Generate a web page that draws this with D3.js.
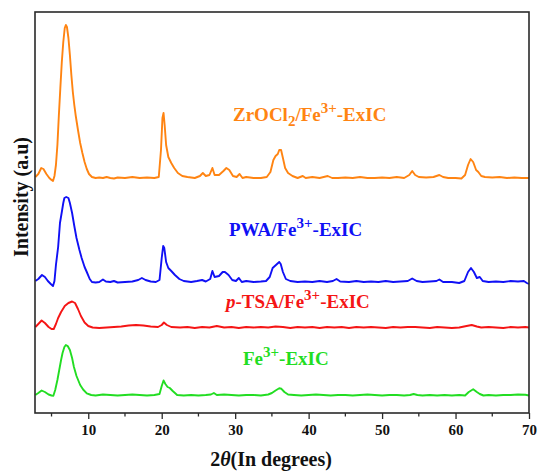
<!DOCTYPE html>
<html>
<head>
<meta charset="utf-8">
<script src="https://cdn.jsdelivr.net/npm/d3@7"></script>
<style>
  body { margin: 0; background: #fff; }
  svg text, svg tspan { font-family: "Liberation Serif", "DejaVu Serif", serif !important; font-weight: bold; }
</style>
</head>
<body>
<div id="chart"></div>
<script>
// XRD patterns, [2theta, intensity above own baseline] (a.u.)
var zrData = [[2.8,1],[3.2,4],[3.6,10],[3.9,9],[4.3,4],[4.7,0],[5.0,-2],[5.2,-3],[5.4,2],[5.6,13],[5.8,33],[6.0,63],[6.2,90],[6.4,116],[6.6,136],[6.8,150],[6.95,153],[7.1,151],[7.3,140],[7.5,123],[7.7,103],[7.9,86],[8.1,73],[8.3,62],[8.6,48],[8.9,35],[9.2,25],[9.5,16],[9.8,9],[10.1,4],[10.5,1],[11,0],[11.5,0.5],[12,0],[12.5,1],[13,0],[13.5,-0.5],[14,0.5],[15,0],[16,1],[17,0],[18,0.5],[19,0],[19.6,1],[19.9,28],[20.1,60],[20.25,65],[20.4,53],[20.6,33],[20.9,21],[21.3,15],[21.7,10],[22.2,5],[22.8,2],[23.5,1],[24.5,0],[25.2,2],[25.6,5],[26.0,2],[26.5,3],[26.9,10],[27.2,3],[27.8,3],[28.4,7],[28.8,10],[29.2,8],[29.7,2],[30.2,1],[30.6,4],[31.0,0],[31.5,1],[32.5,0],[33.5,0],[34.3,1],[34.8,6],[35.2,18],[35.5,22],[35.8,24],[36.0,28],[36.25,28],[36.5,20],[36.8,10],[37.2,5],[37.8,2],[38.5,0],[39.2,2],[39.6,0],[40.5,1],[41.5,0],[42.6,2],[43.2,0],[44,0],[45,0.5],[46,0],[47,1],[48,0],[49,0],[50,0.5],[51,0],[52,1],[53,0],[53.7,3],[54.1,7],[54.5,3],[55,1],[56,0.5],[57,1],[57.8,3],[58.3,1],[59,0],[60,0],[60.8,-0.5],[61.3,3],[61.7,13],[62.05,19],[62.4,16],[62.8,8],[63.1,6],[63.5,2],[64,1],[65,0.5],[66,1],[67,0],[68,0.5],[69,0],[70,0]];

var pwaData = [[2.8,1],[3.2,3],[3.7,7],[4.1,5],[4.5,1],[4.9,-2],[5.2,-4],[5.4,1],[5.6,17],[5.9,35],[6.15,59],[6.4,70],[6.6,79],[6.75,84],[7.0,85],[7.3,84],[7.5,79],[7.8,69],[8.1,56],[8.4,44],[8.8,32],[9.1,24],[9.5,15],[9.8,10],[10.2,3],[10.5,0],[11,-0.5],[11.5,0],[12,2.5],[12.4,0.5],[13,0],[13.5,1],[14,-0.5],[15,0],[16,0.5],[16.8,2],[17.3,4],[17.8,2],[18.5,0.5],[19.2,0],[19.7,2],[20,24],[20.2,36],[20.35,34],[20.6,20],[20.9,14],[21.3,11],[21.8,7],[22.4,3],[23,1],[24,0],[24.8,1],[25.5,2],[26,0.5],[26.6,3],[26.9,11],[27.2,5],[27.8,6],[28.3,10],[28.6,10],[29.1,7],[29.6,2],[30.1,1],[30.5,4],[30.9,0],[31.5,1],[32.5,0],[33.5,0.5],[34.2,1],[34.7,5],[35.1,14],[35.4,16],[35.7,18],[36.0,20],[36.2,18],[36.5,10],[36.9,3],[37.5,1],[38.5,0],[39.5,0.5],[40.5,0],[41.5,1],[42.5,0],[43.3,1],[43.8,3],[44.3,0.5],[45.5,0],[46.5,1],[47.5,0],[48.5,0.5],[49.5,0],[50.5,1],[51.5,0],[52.5,0.5],[53.5,1],[54.1,3.5],[54.7,1],[55.5,0],[56.5,0.5],[57.4,1],[57.8,2.5],[58.3,0],[59.5,0],[60.5,-1],[61.2,1],[61.7,10],[62.1,14],[62.5,10],[62.9,4],[63.3,5],[63.7,1],[64.5,0],[65.5,0.5],[66.5,0],[67.5,1],[68.5,0.5],[69.3,1],[69.7,-1],[70,-2]];

var tsaData = [[2.8,0.5],[3.2,3.5],[3.65,7],[4.1,4.5],[4.6,0.5],[5.0,-1.5],[5.3,-1.5],[5.6,3.5],[5.9,9.5],[6.3,15.5],[6.8,21.5],[7.3,24.5],[7.8,26],[8.2,24.5],[8.6,18.5],[9.0,11.5],[9.5,5],[10.0,1.5],[10.6,0],[11.5,-0.5],[12.5,0],[13.5,0.5],[14.5,1],[15.5,2],[16.5,2.5],[17.5,2],[18.5,1],[19.5,0.5],[20.0,2.5],[20.3,5],[20.7,2.5],[21.3,0.5],[22.5,0],[23.5,0.5],[24.5,-0.5],[25.5,0.5],[26.5,0],[27.5,1.5],[28.5,0],[29.5,0.5],[30.5,-0.5],[31.5,0.5],[32.5,0],[33.5,0.5],[34.5,0],[35.5,1],[36.5,0.5],[37.5,-0.5],[38.5,0.5],[39.5,0],[40.5,0.5],[41.5,-0.5],[42.5,0.5],[43.5,0],[44.5,0.5],[45.5,-0.5],[46.5,0.5],[47.5,0],[48.5,0.5],[49.5,0],[50.5,-0.5],[51.5,0.5],[52.5,0],[53.5,0.5],[54.5,0.5],[55.5,0],[56.5,-0.5],[57.5,0.5],[58.5,0],[59.5,-0.5],[60.5,0],[61.5,1.5],[62.2,2.5],[62.9,1],[63.5,0],[64.5,0.5],[65.5,0],[66.5,-0.5],[67.5,0.5],[68.5,0],[69.5,0.5],[70,0]];

var feData = [[2.8,0],[3.2,2],[3.65,4.5],[4.1,3],[4.6,0.5],[5.0,-0.5],[5.25,-0.8],[5.5,5],[5.8,15],[6.05,25],[6.3,35],[6.5,42],[6.75,48],[6.95,50],[7.2,49],[7.5,45],[7.8,37],[8.05,28],[8.4,19],[8.9,10],[9.3,5.5],[9.8,1.7],[10.4,0],[11,-0.5],[12,0.5],[13,0],[14,-0.5],[15,0],[16,0.5],[17,0],[18,-0.5],[19,0],[19.7,1],[20.0,9],[20.25,14.5],[20.5,11],[20.8,8],[21.1,7],[21.5,4],[22.1,0],[23,-0.5],[24,0],[25,-0.5],[26,0],[26.7,0.5],[27.1,2],[27.5,0],[28.5,0.5],[29.5,0],[30.5,-0.5],[31.5,0],[32.5,0],[33.5,-0.5],[34.5,0.5],[35,2],[35.5,4.5],[36.0,6.7],[36.3,6.2],[36.7,3],[37.2,0.5],[38,0],[39,-0.5],[40,0],[41,0.5],[42,0],[43,-0.5],[44,0],[45,0],[46,-0.5],[47,0],[48,0.5],[49,0],[50,-0.5],[51,0],[52,0],[53,-0.5],[53.8,0],[54.3,1],[54.8,0],[55.5,-0.5],[56.5,0],[57.5,-0.5],[58.5,0],[59.5,-0.5],[60.5,0],[61.3,-0.5],[61.8,3],[62.4,5.7],[62.9,3],[63.3,1],[63.8,-0.5],[64.5,0],[65.5,-0.5],[66.5,0],[67.5,0],[68.5,0.5],[69.5,0.2],[70,-0.5]];

var seriesNames = ["ZrOCl2/Fe3+-ExIC", "PWA/Fe3+-ExIC", "p-TSA/Fe3+-ExIC", "Fe3+-ExIC"];
var seriesOffsets = [235, 131, 85.5, 18];
var xTicks = [10, 20, 30, 40, 50, 60, 70];
var xMinorTicks = [5, 15, 25, 35, 45, 55, 65];

var colors = ["#ff8412", "#1010f5", "#f51515", "#22dd22"];
var allData = [zrData, pwaData, tsaData, feData];
var serif = "'Liberation Serif', 'DejaVu Serif', serif";

// set the dimensions and margins of the graph
var margin = {top: 12, right: 10, bottom: 58, left: 35},
    width = 539 - margin.left - margin.right,
    height = 471 - margin.top - margin.bottom;

var svg = d3.select("#chart")
  .append("svg")
    .attr("width", 539)
    .attr("height", 471)
  .append("g")
    .attr("transform", "translate(" + margin.left + "," + margin.top + ")");

var x = d3.scaleLinear()
  .domain([2.75, 70])
  .range([0, width]);

var y = d3.scaleLinear()
  .domain([0, 401])
  .range([height, 0]);

// lines
var line = d3.line()
  .x(function(d) { return x(d[0]); })
  .y(function(d) { return y(d[1] + d[2]); });

allData.forEach(function(data, i) {
  svg.append("path")
    .datum(data.map(function(d) { return [d[0], d[1], seriesOffsets[i]]; }))
    .attr("fill", "none")
    .attr("stroke", colors[i])
    .attr("stroke-width", 1.9)
    .attr("stroke-linejoin", "round")
    .attr("d", line);
});

// frame
svg.append("rect")
  .attr("width", width)
  .attr("height", height)
  .attr("fill", "none")
  .attr("stroke", "#2a2a2a")
  .attr("stroke-width", 1.6);

// X axis
var xAxis = svg.append("g")
  .attr("transform", "translate(0," + height + ")")
  .call(d3.axisBottom(x).tickValues(xTicks).tickSize(6).tickPadding(5));
xAxis.attr("font-family", serif);
xAxis.select(".domain").remove();
xAxis.selectAll("line").attr("stroke", "#2a2a2a").attr("stroke-width", 1.3);
xAxis.selectAll("text")
  .style("font-family", serif)
  .style("font-size", "15px")
  .attr("fill", "#111");

svg.append("g")
  .attr("transform", "translate(0," + height + ")")
  .selectAll("line")
  .data(xMinorTicks)
  .enter()
  .append("line")
    .attr("x1", function(d) { return x(d); })
    .attr("x2", function(d) { return x(d); })
    .attr("y1", 0)
    .attr("y2", 3.5)
    .attr("stroke", "#2a2a2a")
    .attr("stroke-width", 1.3);

// axis titles
var xt = svg.append("text")
  .attr("x", 236)
  .attr("y", 454)
  .attr("text-anchor", "middle")
  .style("font-family", serif)
  .style("font-size", "20px")
  .attr("fill", "#111");
xt.append("tspan").text("2");
xt.append("tspan").style("font-style", "italic").text("\u03b8");
xt.append("tspan").text("(In degrees)");

svg.append("text")
  .attr("transform", "translate(-7," + 185 + ") rotate(-90)")
  .attr("text-anchor", "middle")
  .style("font-family", serif)
  .style("font-size", "20px")
  .attr("fill", "#111")
  .text("Intensity (a.u)");

// series labels
function label(parts, lx, ly, color) {
  var t = svg.append("text")
    .attr("x", lx)
    .attr("y", ly)
    .style("font-family", serif)
    .style("font-size", "19px")
    .attr("fill", color);
  parts.forEach(function(p) {
    var s = t.append("tspan").text(p.t);
    if (p.sub) s.attr("dy", 5).style("font-size", "15px");
    if (p.sup) s.attr("dy", -8).style("font-size", "15px");
    if (p.back) s.attr("dy", p.back);
    if (p.it) s.style("font-style", "italic");
  });
}

label([{t: "ZrOCl"}, {t: "2", sub: true}, {t: "/Fe", back: -5}, {t: "3+", sup: true}, {t: "-ExIC", back: 8}], 198, 109, colors[0]);
label([{t: "PWA/Fe"}, {t: "3+", sup: true}, {t: "-ExIC", back: 8}], 194, 224, colors[1]);
label([{t: "p", it: true}, {t: "-TSA/Fe"}, {t: "3+", sup: true}, {t: "-ExIC", back: 8}], 191, 296, colors[2]);
label([{t: "Fe"}, {t: "3+", sup: true}, {t: "-ExIC", back: 8}], 208, 353, colors[3]);
</script>
</body>
</html>
